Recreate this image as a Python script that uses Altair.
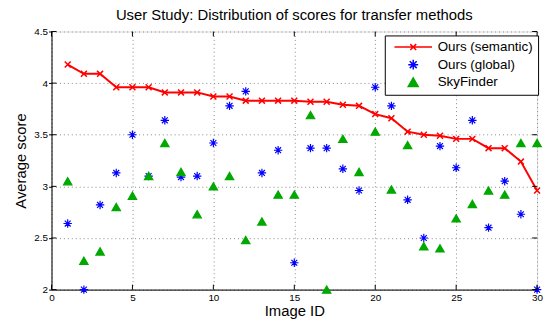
import altair as alt
import pandas as pd

ids = list(range(1, 31))
semantic = [4.18, 4.09, 4.09, 3.96, 3.96, 3.96, 3.91, 3.91, 3.91, 3.87,
            3.87, 3.83, 3.83, 3.83, 3.83, 3.82, 3.82, 3.79, 3.78, 3.70,
            3.66, 3.53, 3.50, 3.49, 3.46, 3.46, 3.37, 3.37, 3.24, 2.96]
global_scores = [2.64, 2.00, 2.82, 3.13, 3.50, 3.10, 3.64, 3.09, 3.10, 3.42,
                 3.78, 3.92, 3.13, 3.35, 2.26, 3.37, 3.37, 3.17, 2.96, 3.96,
                 3.78, 2.87, 2.50, 3.39, 3.18, 3.64, 2.60, 3.05, 2.73, 2.00]
skyfinder = [3.05, 2.28, 2.37, 2.80, 2.91, 3.10, 3.42, 3.14, 2.73, 3.00,
             3.10, 2.48, 2.66, 2.92, 2.92, 3.69, 2.00, 3.46, 3.14, 3.53,
             2.97, 3.40, 2.42, 2.40, 2.69, 2.83, 2.96, 2.92, 3.42, 3.42]
series_names = ["Ours (semantic)", "Ours (global)", "SkyFinder"]
series_colors = ["#ff0000", "#0000ff", "#00a800"]
x_ticks = [0, 5, 10, 15, 20, 25, 30]
y_ticks = [2, 2.5, 3, 3.5, 4, 4.5]

W, H = 491, 261
FONT = "Liberation Sans"

sem_df = pd.DataFrame({"id": ids, "score": semantic, "series": series_names[0]})
pts_df = pd.concat([
    pd.DataFrame({"id": ids, "score": global_scores, "series": series_names[1]}),
    pd.DataFrame({"id": ids, "score": skyfinder, "series": series_names[2]}),
])
xt_df = pd.DataFrame({"t": x_ticks})
yt_df = pd.DataFrame({"t": y_ticks})

xscale = alt.Scale(domain=[0, 30], nice=False, zero=False)
yscale = alt.Scale(domain=[2, 4.5], nice=False, zero=False)

x_enc = alt.X("id:Q", scale=xscale, title="Image ID",
              axis=alt.Axis(values=x_ticks, grid=True, gridDash=[1, 3], gridColor="#8a8a8a",
                            ticks=False, labelPadding=3, labelFontSize=10, labelFont=FONT,
                            labelColor="black", titleFont=FONT, titleFontSize=15,
                            titleFontWeight="normal", titleColor="black", titlePadding=1,
                            domainColor="black", labelFlush=False))
y_enc = alt.Y("score:Q", scale=yscale, title="Average score",
              axis=alt.Axis(values=y_ticks, format="~g", grid=True, gridDash=[1, 3],
                            gridColor="#8a8a8a", tickSize=3, tickColor="black",
                            labelPadding=1, labelFontSize=10, labelFont=FONT,
                            labelColor="black", titleFont=FONT, titleFontSize=15,
                            titleFontWeight="normal", titleColor="black", titlePadding=5,
                            domainColor="black", labelFlush=False))

asterisk = "M-1,0L1,0M0,-1L0,1M-0.7,-0.7L0.7,0.7M-0.7,0.7L0.7,-0.7"
xmark = "M-1,-1L1,1M-1,1L1,-1"
legend_line = "M-3.8,0L3.8,0M-0.6,-0.6L0.6,0.6M-0.6,0.6L0.6,-0.6"

leg = alt.Legend(orient="none", legendX=337, legendY=4, title=None,
                 strokeColor="black", fillColor="white", padding=5,
                 rowPadding=1.8, symbolOffset=17, labelOffset=18,
                 labelFont=FONT, labelFontSize=13.5, labelColor="black",
                 symbolSize=100, symbolStrokeWidth=1.5)
cscale = alt.Scale(domain=series_names, range=series_colors)
sscale = alt.Scale(domain=series_names, range=[legend_line, asterisk, "triangle-up"])

line = alt.Chart(sem_df).mark_line(color="#ff0000", strokeWidth=2).encode(x=x_enc, y=y_enc)
xmarks = alt.Chart(sem_df).mark_point(shape=xmark, color="#ff0000", size=36,
                                      strokeWidth=1.5, opacity=1, filled=False).encode(
    x="id:Q", y="score:Q")
pts = alt.Chart(pts_df).mark_point(filled=True, size=72, strokeWidth=1.2, opacity=1).encode(
    x="id:Q", y="score:Q",
    fill=alt.Fill("series:N", scale=cscale, legend=leg, title=None),
    stroke=alt.Stroke("series:N", scale=cscale, legend=leg, title=None),
    shape=alt.Shape("series:N", scale=sscale, legend=leg, title=None),
)

tick_style = dict(color="black", strokeWidth=1)
xt_bot = alt.Chart(xt_df).mark_rule(**tick_style).encode(x="t:Q", y=alt.value(H), y2=alt.value(H - 5))
xt_top = alt.Chart(xt_df).mark_rule(**tick_style).encode(x="t:Q", y=alt.value(0), y2=alt.value(5))
yt_left = alt.Chart(yt_df).mark_rule(**tick_style).encode(y="t:Q", x=alt.value(0), x2=alt.value(5))
yt_right = alt.Chart(yt_df).mark_rule(**tick_style).encode(y="t:Q", x=alt.value(W), x2=alt.value(W - 5))

chart = alt.layer(line, xmarks, pts, xt_bot, xt_top, yt_left, yt_right).properties(
    width=W, height=H,
    title=alt.TitleParams("User Study: Distribution of scores for transfer methods",
                          font=FONT, fontSize=15, fontWeight="normal", color="black",
                          anchor="middle", frame="group", offset=4),
    autosize=alt.AutoSizeParams(type="none"),
    padding={"left": 44, "top": 22, "right": 8, "bottom": 31},
).configure_view(stroke="black", strokeWidth=1).configure(background="white")

chart.save("out.html", embed_options={"renderer": "svg", "actions": False})
